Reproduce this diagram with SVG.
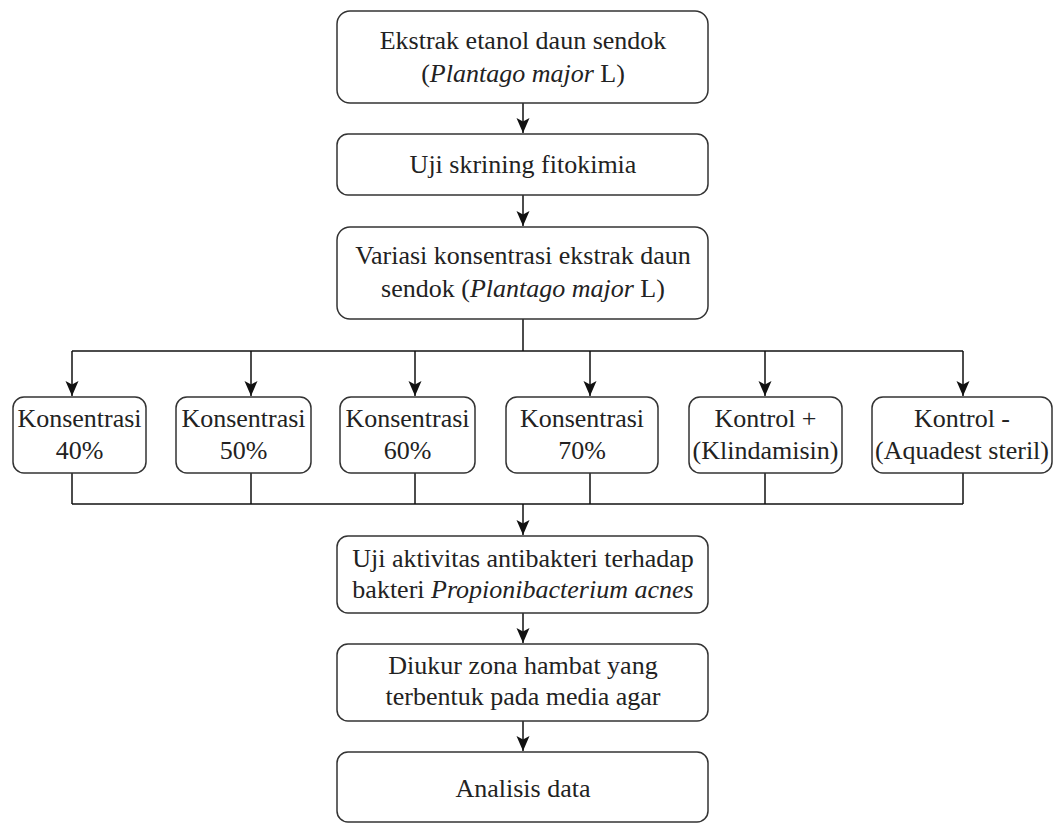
<svg xmlns="http://www.w3.org/2000/svg" width="1061" height="824" viewBox="0 0 1061 824">
<style>
.box{fill:#fff;stroke:#333;stroke-width:1.5}
.t{font-family:'Liberation Serif','Times New Roman',Times,'DejaVu Serif',serif;font-size:26px;fill:#222;text-anchor:middle}
.i{font-style:italic}
.c{fill:none;stroke:#111;stroke-width:1.5}
</style>
<defs>
<marker id="arr" markerUnits="userSpaceOnUse" markerWidth="16" markerHeight="16" viewBox="0 0 16 16" refX="15" refY="8" orient="auto">
<path d="M0,1.5 L15,8 L0,14.5 L3.5,8 z" fill="#111"/>
</marker>
</defs>
<rect width="1061" height="824" fill="#fff"/>
<g id="connectors">
<line class="c" x1="523" y1="103" x2="523" y2="133" marker-end="url(#arr)"/>
<line class="c" x1="523" y1="195" x2="523" y2="226" marker-end="url(#arr)"/>
<line class="c" x1="523" y1="319" x2="523" y2="351"/>
<line class="c" x1="72" y1="351" x2="963" y2="351"/>
<line class="c" x1="72" y1="351" x2="72" y2="396" marker-end="url(#arr)"/>
<line class="c" x1="251" y1="351" x2="251" y2="396" marker-end="url(#arr)"/>
<line class="c" x1="415" y1="351" x2="415" y2="396" marker-end="url(#arr)"/>
<line class="c" x1="590" y1="351" x2="590" y2="396" marker-end="url(#arr)"/>
<line class="c" x1="765" y1="351" x2="765" y2="396" marker-end="url(#arr)"/>
<line class="c" x1="963" y1="351" x2="963" y2="396" marker-end="url(#arr)"/>
<line class="c" x1="72" y1="473" x2="72" y2="504"/>
<line class="c" x1="251" y1="473" x2="251" y2="504"/>
<line class="c" x1="415" y1="473" x2="415" y2="504"/>
<line class="c" x1="590" y1="473" x2="590" y2="504"/>
<line class="c" x1="765" y1="473" x2="765" y2="504"/>
<line class="c" x1="963" y1="473" x2="963" y2="504"/>
<line class="c" x1="72" y1="504" x2="963" y2="504"/>
<line class="c" x1="523" y1="504" x2="523" y2="535" marker-end="url(#arr)"/>
<line class="c" x1="523" y1="613" x2="523" y2="643" marker-end="url(#arr)"/>
<line class="c" x1="523" y1="721" x2="523" y2="751" marker-end="url(#arr)"/>
</g>
<g id="n1">
<rect class="box" x="337" y="11" width="371" height="92" rx="13"/>
<text class="t" x="523" y="49">Ekstrak etanol daun sendok</text>
<text class="t" x="523" y="82">(<tspan class="i">Plantago major</tspan> L)</text>
</g>
<g id="n2">
<rect class="box" x="337" y="134" width="371" height="61" rx="11"/>
<text class="t" x="523" y="173">Uji skrining fitokimia</text>
</g>
<g id="n3">
<rect class="box" x="337" y="227" width="371" height="92" rx="13"/>
<text class="t" x="523" y="264">Variasi konsentrasi ekstrak daun</text>
<text class="t" x="523" y="297">sendok (<tspan class="i">Plantago major</tspan> L)</text>
</g>
<g id="k40">
<rect class="box" x="13" y="397" width="133" height="76" rx="11"/>
<text class="t" x="79.5" y="427">Konsentrasi</text>
<text class="t" x="79.5" y="459">40%</text>
</g>
<g id="k50">
<rect class="box" x="176" y="397" width="135" height="76" rx="11"/>
<text class="t" x="243.5" y="427">Konsentrasi</text>
<text class="t" x="243.5" y="459">50%</text>
</g>
<g id="k60">
<rect class="box" x="340" y="397" width="135" height="76" rx="11"/>
<text class="t" x="407.5" y="427">Konsentrasi</text>
<text class="t" x="407.5" y="459">60%</text>
</g>
<g id="k70">
<rect class="box" x="506" y="397" width="152" height="76" rx="11"/>
<text class="t" x="582" y="427">Konsentrasi</text>
<text class="t" x="582" y="459">70%</text>
</g>
<g id="kpos">
<rect class="box" x="689" y="397" width="153" height="76" rx="11"/>
<text class="t" x="765.5" y="427">Kontrol +</text>
<text class="t" x="765.5" y="459">(Klindamisin)</text>
</g>
<g id="kneg">
<rect class="box" x="872" y="397" width="180" height="76" rx="11"/>
<text class="t" x="962" y="427">Kontrol -</text>
<text class="t" x="962" y="459">(Aquadest steril)</text>
</g>
<g id="n4">
<rect class="box" x="337" y="536" width="371" height="77" rx="11"/>
<text class="t" x="523" y="567">Uji aktivitas antibakteri terhadap</text>
<text class="t" x="523" y="598">bakteri <tspan class="i">Propionibacterium acnes</tspan></text>
</g>
<g id="n5">
<rect class="box" x="337" y="644" width="371" height="77" rx="11"/>
<text class="t" x="523" y="674">Diukur zona hambat yang</text>
<text class="t" x="523" y="705">terbentuk pada media agar</text>
</g>
<g id="n6">
<rect class="box" x="337" y="752" width="371" height="70" rx="11"/>
<text class="t" x="523" y="797">Analisis data</text>
</g>
</svg>
